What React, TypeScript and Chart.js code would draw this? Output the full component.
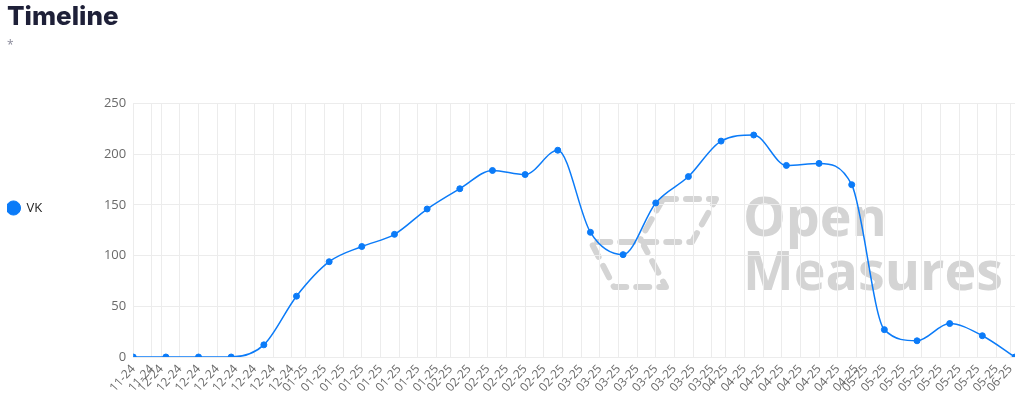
import { useEffect, useRef } from "react";
import { Chart, registerables } from "chart.js";

Chart.register(...registerables);

const titleText = "Timeline";
const subtitleText = "*";
const seriesLabel = "VK";
const weekDates = [
  "2024-11-25", "2024-12-02", "2024-12-09", "2024-12-16", "2024-12-23", "2024-12-30",
  "2025-01-06", "2025-01-13", "2025-01-20", "2025-01-27", "2025-02-03", "2025-02-10",
  "2025-02-17", "2025-02-24", "2025-03-03", "2025-03-10", "2025-03-17", "2025-03-24",
  "2025-03-31", "2025-04-07", "2025-04-14", "2025-04-21", "2025-04-28", "2025-05-05",
  "2025-05-12", "2025-05-19", "2025-05-26", "2025-06-02",
];
const vkValues = [
  0, 0, 0, 0, 12, 60, 94, 109, 121, 146, 166, 184, 180, 204,
  123, 101, 152, 178, 213, 219, 189, 191, 170, 27, 16, 33, 21, 0,
];
const tickDaysOfMonth = [1, 5, 9, 13, 17, 21, 25, 29];
const yMin = 0;
const yMax = 250;
const yStep = 50;
const watermarkLines = ["Open", "Measures"];

const DAY = 86400000;
const toUTC = (s: string) => {
  const [y, m, d] = s.split("-").map(Number);
  return Date.UTC(y, m - 1, d);
};
const origin = toUTC(weekDates[0]);
const dayIndex = (s: string) => Math.round((toUTC(s) - origin) / DAY);
const lastDay = dayIndex(weekDates[weekDates.length - 1]);

function buildTickDays(): number[] {
  const out: number[] = [];
  const start = new Date(origin);
  let y = start.getUTCFullYear();
  let m = start.getUTCMonth();
  for (let guard = 0; guard < 48; guard++) {
    for (const d of tickDaysOfMonth) {
      const t = Date.UTC(y, m, d);
      if (new Date(t).getUTCMonth() !== m) continue;
      const idx = Math.round((t - origin) / DAY);
      if (idx > lastDay) return out;
      if (idx >= 0) out.push(idx);
    }
    m++;
    if (m > 11) {
      m = 0;
      y++;
    }
  }
  return out;
}
const tickDays = buildTickDays();

const fmtTick = (v: number) => {
  const dt = new Date(origin + v * DAY);
  const mm = String(dt.getUTCMonth() + 1).padStart(2, "0");
  const yy = String(dt.getUTCFullYear() % 100).padStart(2, "0");
  return `${mm}-${yy}`;
};

const LINE = "#0b7bf8";
const GRID = "#ececec";
const TICK = "#6a6a6a";
const WM = "#d4d4d4";

const watermarkPlugin = {
  id: "watermark",
  beforeDraw(chart: any) {
    const ctx = chart.ctx as CanvasRenderingContext2D;
    ctx.save();
    ctx.strokeStyle = WM;
    ctx.lineWidth = 6;
    ctx.lineCap = "round";
    ctx.lineJoin = "round";
    ctx.setLineDash([13, 10]);
    ctx.beginPath();
    ctx.moveTo(663, 199);
    ctx.lineTo(716, 199);
    ctx.lineTo(692, 242);
    ctx.lineTo(591, 242);
    ctx.lineTo(614, 287);
    ctx.lineTo(666, 287);
    ctx.lineTo(644, 246);
    ctx.stroke();
    ctx.beginPath();
    ctx.moveTo(663, 199);
    ctx.lineTo(640, 240);
    ctx.stroke();
    ctx.setLineDash([]);
    ctx.fillStyle = WM;
    ctx.font = "700 54px 'Open Sans'";
    ctx.textBaseline = "alphabetic";
    const w = ctx.measureText(watermarkLines[1]).width;
    const sx = 260 / w;
    ctx.translate(743, 0);
    ctx.scale(sx, 1);
    ctx.fillText(watermarkLines[0], 0, 236);
    ctx.fillText(watermarkLines[1], 0, 290);
    ctx.restore();
  },
};

export default function App() {
  const ref = useRef<HTMLCanvasElement | null>(null);

  useEffect(() => {
    if (!ref.current) return;
    const chart = new Chart(ref.current, {
      type: "line",
      data: {
        datasets: [
          {
            label: seriesLabel,
            data: weekDates.map((d, i) => ({ x: dayIndex(d), y: vkValues[i] })),
            borderColor: LINE,
            backgroundColor: LINE,
            borderWidth: 1.5,
            pointRadius: 3,
            pointBorderWidth: 1,
            cubicInterpolationMode: "monotone",
            fill: false,
          },
        ],
      },
      options: {
        animation: false,
        responsive: false,
        layout: { padding: { left: 7, right: 9, top: 0, bottom: 0 } },
        scales: {
          x: {
            type: "linear",
            min: 0,
            max: lastDay,
            afterBuildTicks: (s: any) => {
              s.ticks = tickDays.map((v) => ({ value: v }));
            },
            afterFit: (s: any) => {
              s.height = 59;
              s.paddingLeft = 0;
              s.paddingRight = 0;
            },
            ticks: {
              autoSkip: false,
              minRotation: 48,
              maxRotation: 48,
              padding: 5,
              color: TICK,
              font: { family: "'Open Sans'", size: 12 },
              callback: (v: any) => fmtTick(Number(v)),
            },
            grid: { color: GRID, drawTicks: false },
            border: { display: false },
          },
          y: {
            min: yMin,
            max: yMax,
            afterFit: (s: any) => {
              s.width = 81;
            },
            ticks: {
              stepSize: yStep,
              padding: 7,
              color: TICK,
              font: { family: "'Open Sans'", size: 13 },
            },
            grid: { color: GRID, drawTicks: false },
            border: { display: false },
          },
        },
        plugins: {
          title: {
            display: true,
            text: titleText,
            align: "start",
            color: "#1e2038",
            font: { family: "Inter", size: 26, weight: 800 },
            padding: { top: 2, bottom: 0 },
          },
          subtitle: {
            display: true,
            text: subtitleText,
            align: "start",
            color: "#8a8a9a",
            font: { family: "'Open Sans'", size: 12 },
            padding: { top: 5, bottom: 51 },
          },
          legend: {
            position: "left",
            align: "center",
            labels: {
              usePointStyle: true,
              pointStyle: "circle",
              boxWidth: 13,
              boxHeight: 10,
              padding: 0,
              color: "#222",
              font: { family: "'Open Sans'", size: 13 },
            },
          },
          tooltip: { enabled: false },
        },
      },
      plugins: [watermarkPlugin],
    } as any);
    return () => chart.destroy();
  }, []);

  return (
    <div style={{ position: "absolute", left: 0, top: 0, width: 1024, height: 416 }}>
      <canvas ref={ref} width={1024} height={416} style={{ width: 1024, height: 416 }} />
    </div>
  );
}
